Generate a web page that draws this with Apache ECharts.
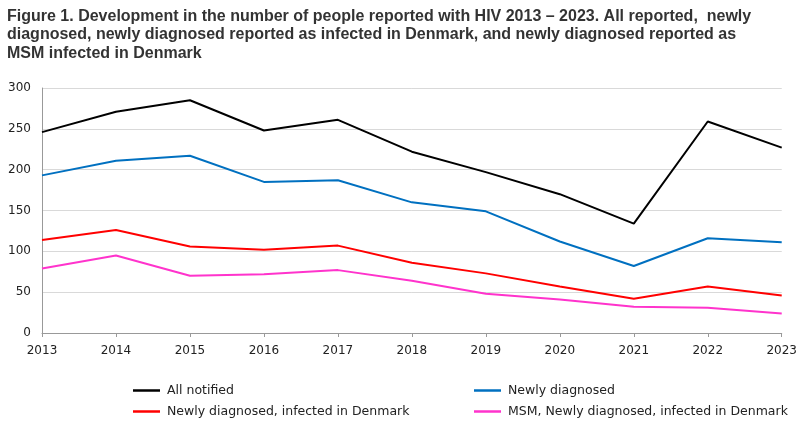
<!DOCTYPE html>
<html><head><meta charset="utf-8">
<script src="https://cdn.jsdelivr.net/npm/echarts@6/dist/echarts.min.js"></script>
<style>html,body{margin:0;padding:0;background:#fff}#c{width:800px;height:427px}</style>
</head><body><div id="c"></div>
<script>
const years = ['2013','2014','2015','2016','2017','2018','2019','2020','2021','2022','2023'];
const allNotified = [246, 271, 285, 248, 261, 222, 197, 170, 134, 259, 227];
const newlyDiagnosed = [193, 211, 217, 185, 187, 160, 149, 112, 82, 116, 111];
const infectedDK = [114, 126, 106, 102, 107, 86, 73, 57, 42, 57, 46];
const msmDK = [79, 95, 70, 72, 77, 64, 48, 41, 32, 31, 24];
const yTicks = [0, 50, 100, 150, 200, 250, 300];

const font = "'DejaVu Sans', sans-serif";
const chart = echarts.init(document.getElementById('c'));
const mk = (name, data, color) => ({
  name, type: 'line', data, symbol: 'none', lineStyle: {color, width: 2}, itemStyle: {color}
});
const legendCommon = {
  orient: 'vertical', top: 379, itemWidth: 27, itemHeight: 2.5, itemGap: 8, icon: 'rect',
  textStyle: {fontFamily: font, fontSize: 12.5, color: '#222', padding: [0, 0, 0, 2]}
};
chart.setOption({
  animation: false,
  title: {
    text: 'Figure 1. Development in the number of people reported with HIV 2013 – 2023. All reported,  newly\ndiagnosed, newly diagnosed reported as infected in Denmark, and newly diagnosed reported as\nMSM infected in Denmark',
    left: 2, top: 2,
    textStyle: {fontFamily: "'Liberation Sans', Arial, sans-serif", fontWeight: 'bold', fontSize: 16, lineHeight: 18.5, color: '#333'}
  },
  grid: {left: 42, right: 17, top: 88, bottom: 94},
  xAxis: {
    type: 'category', data: years, boundaryGap: false,
    axisLine: {lineStyle: {color: '#999'}},
    axisTick: {show: true, lineStyle: {color: '#999'}, length: 4},
    axisLabel: {color: '#222', fontFamily: font, fontSize: 12, margin: 12}
  },
  yAxis: {
    type: 'value', min: yTicks[0], max: yTicks[yTicks.length-1], interval: 50,
    axisLine: {show: true, lineStyle: {color: '#999'}},
    axisTick: {show: false},
    splitLine: {lineStyle: {color: '#d9d9d9'}},
    axisLabel: {color: '#222', fontFamily: font, fontSize: 12, margin: 11}
  },
  legend: [
    Object.assign({}, legendCommon, {left: 128, data: ['All notified', 'Newly diagnosed, infected in Denmark']}),
    Object.assign({}, legendCommon, {left: 469, data: ['Newly diagnosed', 'MSM, Newly diagnosed, infected in Denmark']})
  ],
  series: [
    mk('All notified', allNotified, '#000000'),
    mk('Newly diagnosed', newlyDiagnosed, '#0070C0'),
    mk('Newly diagnosed, infected in Denmark', infectedDK, '#FF0000'),
    mk('MSM, Newly diagnosed, infected in Denmark', msmDK, '#FF33CC')
  ]
});
</script></body></html>
